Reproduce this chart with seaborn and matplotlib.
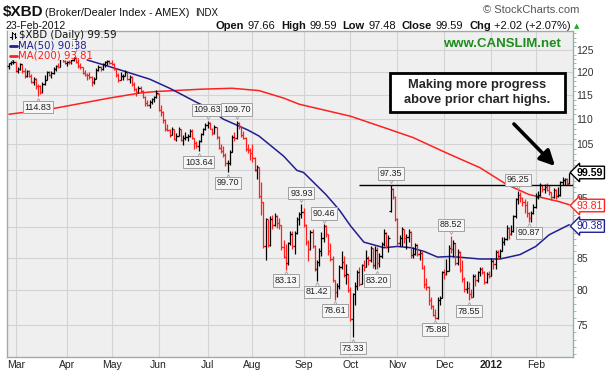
import matplotlib
matplotlib.use("Agg")
import matplotlib.pyplot as plt
import matplotlib.ticker as mticker
import matplotlib.transforms as mtrans
from matplotlib.lines import Line2D
from matplotlib.patches import Rectangle
import numpy as np
import pandas as pd
import seaborn as sns

W, H = 610, 375

holidays = ["2011-04-22", "2011-05-30", "2011-07-04", "2011-09-05", "2011-11-24",
            "2011-12-26", "2012-01-02", "2012-01-16", "2012-02-20"]
month_labels = ["Mar", "Apr", "May", "Jun", "Jul", "Aug", "Sep", "Oct", "Nov", "Dec", "2012", "Feb"]
price_ticks = [75, 80, 85, 90, 95, 100, 105, 110, 115, 120, 125]
hidden_ticks = [90, 100]   # covered by the value tags on the right

# daily OHLC, one row per month (Feb-2011 .. Feb-2012)
opens = [
    121.5, 122.0, 122.8,
    122.3, 120.3, 120.8, 121.8, 120.4, 119.2, 120.2, 119.3, 117.9, 118.6, 117.0, 116.9, 115.6, 117.4, 118.3, 120.0, 119.5, 119.9, 120.7, 121.5, 121.2, 123.3, 122.6,
    122.1, 122.4, 122.3, 122.9, 123.3, 122.4, 121.4, 121.1, 119.9, 119.5, 119.4, 119.0, 117.8, 118.6, 120.6, 121.2, 120.8, 121.8, 122.3, 122.5,
    122.1, 121.9, 120.8, 119.4, 118.4, 119.1, 119.2, 120.1, 118.6, 119.0, 117.4, 116.4, 115.6, 116.6, 116.0, 114.7, 113.3, 113.0, 113.6, 114.1, 114.6,
    115.2, 111.9, 111.5, 109.8, 107.9, 107.8, 106.9, 108.0, 106.1, 106.7, 107.9, 105.9, 106.2, 106.5, 106.7, 107.6, 106.2, 105.3, 104.6, 105.6, 107.0, 108.0,
    108.9, 109.3, 108.1, 107.2, 108.4, 106.5, 104.3, 103.6, 102.9, 101.3, 101.4, 103.5, 106.5, 106.2, 109.2, 108.6, 106.9, 106.3, 104.0, 103.9,
    103.2, 102.4, 100.0, 100.6, 95.3, 94.2, 86.9, 91.3, 87.0, 91.3, 90.4, 91.9, 90.6, 90.3, 86.7, 85.1, 84.2, 87.4, 88.9, 86.9, 89.0, 91.4, 92.2,
    92.6, 90.4, 87.6, 86.4, 89.2, 86.9, 83.3, 84.3, 86.0, 88.1, 90.1, 88.8, 86.0, 84.8, 81.5, 79.8, 80.6, 83.5, 84.3, 82.3, 82.4,
    80.1, 75.9, 79.4, 80.6, 82.8, 81.0, 83.8, 83.6, 85.0, 84.6, 86.5, 83.9, 86.3, 84.1, 85.3, 87.2, 89.0, 86.9, 92.8, 96.6, 95.2,
    91.4, 87.3, 88.1, 89.6, 88.2, 88.4, 89.2, 85.4, 85.6, 87.0, 85.6, 85.7, 83.4, 80.9, 80.5, 78.5, 77.7, 76.4, 76.0, 78.6, 78.8,
    82.7, 82.4, 83.0, 86.5, 86.4, 87.3, 84.1, 85.9, 83.1, 81.7, 80.2, 80.4, 79.4, 79.0, 82.2, 81.6, 82.7, 83.3, 82.7, 81.3, 82.5,
    82.2, 84.5, 84.0, 85.9, 85.2, 86.1, 87.6, 88.0, 89.8, 88.9, 89.4, 91.8, 94.8, 95.6, 95.0, 94.2, 93.8, 92.3, 91.5, 92.4,
    93.4, 95.2, 95.6, 97.3, 96.6, 97.0, 96.4, 96.0, 95.1, 96.5, 95.4, 95.5, 97.8, 98.2, 98.4, 97.66,
]
highs = [
    122.2, 122.6, 122.8,
    122.3, 121.3, 122.0, 121.9, 120.9, 120.6, 120.5, 119.6, 119.0, 118.7, 117.5, 117.2, 117.8, 119.5, 120.3, 120.4, 120.2, 121.1, 121.6, 122.2, 123.74, 123.6, 122.8,
    122.6, 122.8, 123.2, 123.4, 123.4, 123.0, 122.0, 121.2, 120.6, 119.8, 120.0, 119.1, 118.9, 120.9, 121.6, 121.5, 122.0, 122.5, 122.8, 122.8,
    122.9, 122.1, 121.0, 119.9, 120.1, 119.7, 120.5, 120.2, 119.4, 119.1, 117.8, 116.6, 116.9, 116.9, 116.1, 114.8, 114.0, 113.9, 114.5, 114.9, 116.1,
    115.4, 112.9, 111.6, 110.0, 109.0, 108.1, 108.4, 108.1, 107.2, 108.5, 108.0, 106.8, 107.3, 107.0, 108.0, 107.9, 106.3, 105.6, 105.9, 107.2, 108.3, 109.2,
    109.63, 109.4, 108.3, 108.8, 108.5, 106.6, 105.0, 104.6, 103.2, 101.9, 103.8, 106.8, 107.4, 109.70, 109.5, 108.7, 107.6, 106.5, 105.0, 104.3,
    105.0, 102.6, 101.0, 100.7, 97.9, 94.3, 91.6, 91.4, 91.8, 92.0, 92.3, 92.0, 91.5, 90.4, 87.8, 87.2, 87.6, 89.3, 89.4, 89.4, 91.7, 92.6, 93.93,
    93.2, 90.5, 87.8, 89.5, 89.6, 87.0, 84.6, 86.5, 89.1, 90.46, 90.3, 88.9, 87.3, 85.2, 81.6, 81.1, 83.8, 86.0, 85.2, 84.0, 82.5,
    80.5, 79.6, 81.2, 83.1, 83.5, 84.0, 84.6, 86.3, 85.3, 86.9, 86.6, 86.8, 86.7, 85.8, 87.6, 89.6, 89.1, 88.6, 97.35, 96.8, 95.3,
    91.5, 88.7, 90.0, 89.7, 88.9, 89.7, 89.3, 86.7, 87.4, 87.2, 86.2, 86.0, 83.8, 81.8, 80.6, 79.0, 77.8, 77.3, 79.0, 79.2, 83.0,
    83.3, 84.8, 87.0, 88.52, 87.9, 87.4, 86.4, 86.0, 84.6, 82.0, 81.4, 81.2, 80.2, 82.4, 82.5, 83.0, 83.5, 83.6, 82.9, 82.7, 82.9,
    85.0, 84.8, 86.2, 86.2, 86.4, 88.4, 88.3, 90.3, 90.0, 90.4, 92.0, 95.0, 96.25, 96.0, 95.2, 94.8, 94.5, 92.6, 92.7, 94.0,
    95.8, 96.2, 97.7, 97.4, 97.5, 97.6, 97.3, 96.1, 96.8, 96.6, 97.0, 98.0, 98.7, 98.6, 98.5, 99.59,
]
lows = [
    120.8, 121.6, 121.9,
    120.0, 119.8, 120.5, 119.9, 118.8, 118.9, 118.9, 117.6, 117.2, 116.4, 114.83, 115.2, 115.5, 117.2, 118.2, 119.2, 118.7, 119.6, 120.3, 121.0, 121.1, 122.3, 121.8,
    121.4, 121.9, 121.9, 122.5, 122.0, 121.0, 120.8, 119.6, 119.2, 118.2, 118.6, 117.0, 117.5, 118.6, 120.3, 120.4, 120.6, 121.2, 121.7, 121.8,
    121.6, 120.5, 119.0, 117.9, 118.2, 118.4, 119.1, 118.3, 117.6, 117.1, 116.0, 114.8, 115.4, 115.6, 114.4, 112.8, 112.7, 112.3, 113.1, 113.6, 114.5,
    111.6, 110.6, 109.2, 107.6, 107.6, 106.4, 106.8, 105.8, 105.7, 106.6, 105.6, 104.9, 105.9, 105.6, 106.4, 106.0, 104.0, 104.2, 103.64, 105.4, 106.8, 107.7,
    108.3, 107.9, 106.8, 107.0, 106.1, 104.0, 103.2, 102.6, 100.9, 99.70, 101.0, 103.4, 105.6, 106.0, 108.0, 106.4, 106.0, 103.6, 103.3, 102.0,
    101.5, 99.8, 98.4, 95.0, 92.0, 86.5, 84.7, 86.7, 86.8, 89.6, 90.2, 89.9, 89.6, 86.2, 84.9, 83.13, 83.9, 87.0, 86.4, 85.6, 88.9, 90.4, 91.6,
    90.0, 87.0, 84.5, 86.3, 86.5, 82.9, 81.42, 83.7, 85.2, 87.5, 88.4, 85.4, 84.5, 81.2, 78.61, 79.0, 80.2, 83.2, 82.0, 81.0, 79.8,
    75.6, 73.33, 77.9, 80.0, 80.6, 81.0, 82.9, 83.5, 83.9, 84.3, 83.4, 83.3, 83.20, 83.5, 85.0, 86.9, 86.6, 85.9, 92.6, 94.9, 91.0,
    86.8, 86.9, 86.9, 87.4, 86.4, 87.6, 85.0, 85.0, 85.5, 85.3, 84.6, 83.2, 80.4, 80.1, 77.9, 77.2, 76.2, 75.88, 75.9, 77.9, 78.8,
    81.7, 82.3, 82.9, 85.8, 85.1, 83.8, 83.9, 82.7, 81.3, 79.8, 79.6, 78.55, 78.8, 79.0, 80.6, 81.3, 82.2, 82.4, 81.0, 81.1, 81.9,
    82.2, 83.2, 83.3, 84.8, 85.0, 86.0, 87.0, 87.8, 88.0, 88.6, 89.2, 91.6, 93.9, 94.3, 93.6, 92.4, 91.7, 90.87, 90.9, 92.2,
    93.3, 94.8, 95.4, 96.0, 95.9, 96.2, 95.6, 94.6, 95.0, 94.9, 95.2, 95.4, 97.4, 97.3, 97.3, 97.48,
]
closes = [
    122.0, 122.3, 122.3,
    120.3, 120.8, 121.8, 120.4, 119.2, 120.2, 119.3, 117.9, 118.6, 117.0, 116.9, 115.6, 117.4, 118.3, 120.0, 119.5, 119.9, 120.7, 121.5, 121.2, 123.3, 122.6, 122.1,
    122.4, 122.3, 122.9, 123.3, 122.4, 121.4, 121.1, 119.9, 119.5, 119.4, 119.0, 117.8, 118.6, 120.6, 121.2, 120.8, 121.8, 122.3, 122.5, 122.1,
    121.9, 120.8, 119.4, 118.4, 119.1, 119.2, 120.1, 118.6, 119.0, 117.4, 116.4, 115.6, 116.6, 116.0, 114.7, 113.3, 113.0, 113.6, 114.1, 114.6, 115.4,
    111.9, 111.5, 109.8, 107.9, 107.8, 106.9, 108.0, 106.1, 106.7, 107.9, 105.9, 106.2, 106.5, 106.7, 107.6, 106.2, 105.3, 104.6, 105.6, 107.0, 108.0, 108.9,
    109.3, 108.1, 107.2, 108.4, 106.5, 104.3, 103.6, 102.9, 101.3, 101.4, 103.5, 106.5, 106.2, 109.2, 108.6, 106.9, 106.3, 104.0, 103.9, 103.2,
    102.4, 100.0, 100.6, 95.3, 94.2, 86.9, 91.3, 87.0, 91.3, 90.4, 91.9, 90.6, 90.3, 86.7, 85.1, 84.2, 87.4, 88.9, 86.9, 89.0, 91.4, 92.2, 92.6,
    90.4, 87.6, 86.4, 89.2, 86.9, 83.3, 84.3, 86.0, 88.1, 90.1, 88.8, 86.0, 84.8, 81.5, 79.8, 80.6, 83.5, 84.3, 82.3, 82.4, 80.1,
    75.9, 79.4, 80.6, 82.8, 81.0, 83.8, 83.6, 85.0, 84.6, 86.5, 83.9, 86.3, 84.1, 85.3, 87.2, 89.0, 86.9, 88.2, 96.6, 95.2, 91.4,
    87.3, 88.1, 89.6, 88.2, 88.4, 89.2, 85.4, 85.6, 87.0, 85.6, 85.7, 83.4, 80.9, 80.5, 78.5, 77.7, 76.4, 76.0, 78.6, 78.8, 82.7,
    82.4, 83.0, 86.5, 86.4, 87.3, 84.1, 85.9, 83.1, 81.7, 80.2, 80.4, 79.4, 79.0, 82.2, 81.6, 82.7, 83.3, 82.7, 81.3, 82.5, 82.2,
    84.5, 84.0, 85.9, 85.2, 86.1, 87.6, 88.0, 89.8, 88.9, 89.4, 91.8, 94.8, 95.6, 95.0, 94.2, 93.8, 92.3, 91.5, 92.4, 93.4,
    95.2, 95.6, 97.3, 96.6, 97.0, 96.4, 96.0, 95.1, 96.5, 95.4, 95.5, 97.8, 98.2, 98.4, 97.57, 99.59,
]

# moving averages (bar index, value)
ma50_idx = [35, 45, 63, 72, 78, 84, 89, 96, 101, 107, 112, 123, 129, 132, 142, 148, 153, 159,
            168, 174, 180, 186, 192, 198, 211, 220, 229, 236, 242, 251]
ma50_val = [122.8, 121.3, 118.5, 116.5, 115.0, 113.5, 112.4, 110.0, 109.0, 107.8, 106.6, 102.7, 100.0,
            99.6, 95.6, 92.9, 90.2, 87.5, 86.6, 86.8, 86.6, 86.0, 85.1, 85.2, 84.8, 84.8, 85.5, 86.8, 88.7, 90.38]
ma200_idx = [0, 20, 45, 59, 66, 86, 100, 112, 123, 130, 153, 166, 181, 196, 211, 223, 233, 246, 251]
ma200_val = [111.0, 112.2, 114.4, 115.5, 115.8, 116.3, 116.5, 116.0, 114.4, 113.1, 110.6, 108.6,
             106.3, 103.3, 100.5, 97.4, 95.6, 94.4, 93.81]

# swing high / low labels
lab_idx = [23, 13, 85, 89, 98, 102, 124, 131, 138, 141, 146, 154, 165, 171, 191, 198, 206, 228, 233]
lab_val = [123.74, 114.83, 103.64, 109.63, 99.70, 109.70, 83.13, 93.93, 81.42, 90.46, 78.61, 73.33,
           83.20, 97.35, 75.88, 88.52, 78.55, 96.25, 90.87]
lab_side = ["high", "low", "low", "high", "low", "high", "low", "high", "low", "high", "low", "low",
            "low", "high", "low", "high", "low", "high", "low"]

resistance = 97.35
resistance_from = 157

BG = "#efefef"
GRID = "#d3d3d3"
BORDER = "#9aaea8"
NAVY = "#1f1f8f"
RED = "#ff2020"

days = pd.bdate_range("2011-02-24", "2012-02-23")
days = days[~days.isin(pd.to_datetime(holidays))]
df = pd.DataFrame({"date": days, "o": opens, "h": highs, "l": lows, "c": closes})
df["i"] = np.arange(len(df))
prev = df["c"].shift(1).fillna(df["o"])
bar_col = np.where(df["c"] < prev, RED, "#000000")

month_start = df.groupby(df["date"].dt.to_period("M"))["i"].min().values[1:]

sns.set_style("whitegrid")
plt.rcParams["font.family"] = ["Liberation Sans", "DejaVu Sans"]


def fx(px):
    return px / W


def fy(py):
    return 1 - py / H


fig = plt.figure(figsize=(W / 100, H / 100), dpi=100)
fig.patch.set_facecolor("white")
ax = fig.add_axes([fx(7.3), fy(356.5), fx(573) - fx(7.3), fy(31) - fy(356.5)])
ax.set_facecolor(BG)

# OHLC bars
ax.vlines(df["i"], df["l"], df["h"], colors=bar_col, lw=0.9, zorder=3)
ax.hlines(df["o"], df["i"] - 0.7, df["i"], colors=bar_col, lw=0.9, zorder=3)
ax.hlines(df["c"], df["i"], df["i"] + 0.7, colors=bar_col, lw=0.9, zorder=3)

sns.lineplot(x=ma200_idx, y=ma200_val, color=RED, lw=1.1, ax=ax, zorder=2)
sns.lineplot(x=ma50_idx, y=ma50_val, color=NAVY, lw=1.1, ax=ax, zorder=2)

ax.hlines(resistance, resistance_from, 253, color="black", lw=1.0, zorder=4)

ax.set_yscale("log")
ax.set_ylim(70.73, 129.6)
ax.set_xlim(-0.76, 252.7)
ax.yaxis.tick_right()
ax.set_yticks(price_ticks)
ax.yaxis.set_major_formatter(mticker.FuncFormatter(lambda v, _: "" if round(v) in hidden_ticks else f"{v:g}"))
ax.yaxis.set_minor_locator(mticker.FixedLocator(list(range(71, 130))))
ax.yaxis.set_minor_formatter(mticker.NullFormatter())
ax.set_xticks(month_start)
ax.set_xticklabels(month_labels)
for t in ax.get_xticklabels():
    if t.get_text() == "2012":
        t.set_fontweight("bold")
ax.tick_params(axis="x", length=0, pad=2.5, labelsize=7.5, colors="#222222")
ax.tick_params(axis="y", which="major", length=0, pad=2.5, labelsize=7.5, colors="#333333")
ax.tick_params(axis="y", which="minor", length=2, width=0.6, color=BORDER, right=True, left=False)
ax.grid(True, which="major", color=GRID, lw=0.8)
ax.grid(False, which="minor")
for s in ax.spines.values():
    s.set_color(BORDER)
    s.set_linewidth(1.0)
ax.set_xlabel("")
ax.set_ylabel("")

# swing labels with a small pointer toward the bar
for i, v, side in zip(lab_idx, lab_val, lab_side):
    off = 11 if side == "high" else -11
    ax.annotate(f"{v:.2f}", xy=(i, v), xytext=(0, off), textcoords="offset pixels",
                ha="center", va="center", fontsize=6.5, color="#222222", zorder=5,
                bbox=dict(boxstyle="square,pad=0.2", fc="#f6f6f6", ec="#a0a0a0", lw=0.7))
    tip = mtrans.offset_copy(ax.transData, fig=fig, x=0, y=3.6 if off > 0 else -3.6, units="dots")
    ax.plot([i], [v], transform=tip, marker="v" if off > 0 else "^", ms=3, mfc="#f6f6f6",
            mec="#a0a0a0", mew=0.6, ls="none", zorder=4.5)

# legend block (covers the plot corner)
fig.add_artist(Rectangle((fx(8), fy(60)), fx(72) - fx(8), fy(31.5) - fy(60),
                         transform=fig.transFigure, fc=BG, ec="none", zorder=6))
for dx, (lo, hi, o, c) in enumerate([(38.5, 32.0, 36.5, 33.0), (37.5, 32.5, 33.5, 36.5)]):
    xx = 11.5 + dx * 3.5
    fig.add_artist(Line2D([fx(xx), fx(xx)], [fy(lo), fy(hi)], color="black", lw=0.8, zorder=7))
    fig.add_artist(Line2D([fx(xx - 1.2), fx(xx)], [fy(o), fy(o)], color="black", lw=0.8, zorder=7))
    fig.add_artist(Line2D([fx(xx), fx(xx + 1.2)], [fy(c), fy(c)], color="black", lw=0.8, zorder=7))
fig.text(fx(19), fy(35.5), r"\$XBD (Daily) 99.59", fontsize=7.3, va="center", color="#111111",
         family=["DejaVu Sans"], zorder=7)
fig.add_artist(Line2D([fx(10), fx(17)], [fy(45.5), fy(45.5)], color=NAVY, lw=2, zorder=7))
fig.text(fx(18), fy(45.5), "MA(50) 90.38", fontsize=7.3, va="center", color=NAVY,
         family=["DejaVu Sans"], zorder=7)
fig.add_artist(Line2D([fx(10), fx(17)], [fy(55.5), fy(55.5)], color=RED, lw=2, zorder=7))
fig.text(fx(18), fy(55.5), "MA(200) 93.81", fontsize=7.3, va="center", color=RED,
         family=["DejaVu Sans"], zorder=7)

fig.text(fx(502), fy(44), "www.CANSLIM.net", fontsize=9.5, fontweight="bold", color="#1e8c1e",
         ha="center", va="center")

# callout
fig.add_artist(Rectangle((fx(390), fy(112)), fx(565) - fx(390), fy(73) - fy(112),
                         transform=fig.transFigure, fc="white", ec="black", lw=2, zorder=8))
fig.text(fx(477.5), fy(92.5), "Making more progress\nabove prior chart highs.", fontsize=9.3,
         fontweight="bold", ha="center", va="center", linespacing=1.3, zorder=9)
ax.annotate("", xy=(557, H - 168), xytext=(512, H - 122), xycoords="figure pixels",
            textcoords="figure pixels",
            arrowprops=dict(arrowstyle="-|>,head_length=0.9,head_width=0.45", lw=2.6, color="black"),
            zorder=9)

# last-value tags on the price axis
for val, col, y, bold in [("99.59", "black", 172.5, True), ("93.81", RED, 205.5, False), ("90.38", NAVY, 226, False)]:
    fig.text(fx(590), fy(y), val, fontsize=7.6, fontweight="bold" if bold else "normal", color=col,
             ha="center", va="center", zorder=10,
             bbox=dict(boxstyle="larrow,pad=0.12", fc="white", ec=col, lw=1))

# header
fig.text(fx(3), fy(12), r"\$XBD", fontsize=11, fontweight="bold", va="center", color="#111111")
fig.text(fx(45), fy(13), "(Broker/Dealer Index - AMEX)", fontsize=7.8, va="center", color="#111111")
fig.text(fx(195), fy(13), "INDX", fontsize=7, va="center", color="#111111")
fig.text(fx(579), fy(10), "\u00a9 StockCharts.com", fontsize=8, va="center", ha="right", color="#555555")
fig.text(fx(5), fy(26), "23-Feb-2012", fontsize=7.6, va="center", color="#111111")

renderer = fig.canvas.get_renderer()
x = 215
pieces = [("Open", True), ("97.66", False), ("High", True), ("99.59", False), ("Low", True),
          ("97.48", False), ("Close", True), ("99.59", False), ("Chg", True), ("+2.02 (+2.07%)", False)]
for k, (s, b) in enumerate(pieces):
    t = fig.text(fx(x), fy(26), s, fontsize=8, fontweight="bold" if b else "normal", va="center",
                 color="#111111")
    x += t.get_window_extent(renderer).width + (6 if k % 2 else 3.5)
fig.text(fx(x - 3), fy(26), "\u25b2", fontsize=5, color="#22aa22", va="center", family=["DejaVu Sans"])

fig.savefig("out.png", dpi=100)
